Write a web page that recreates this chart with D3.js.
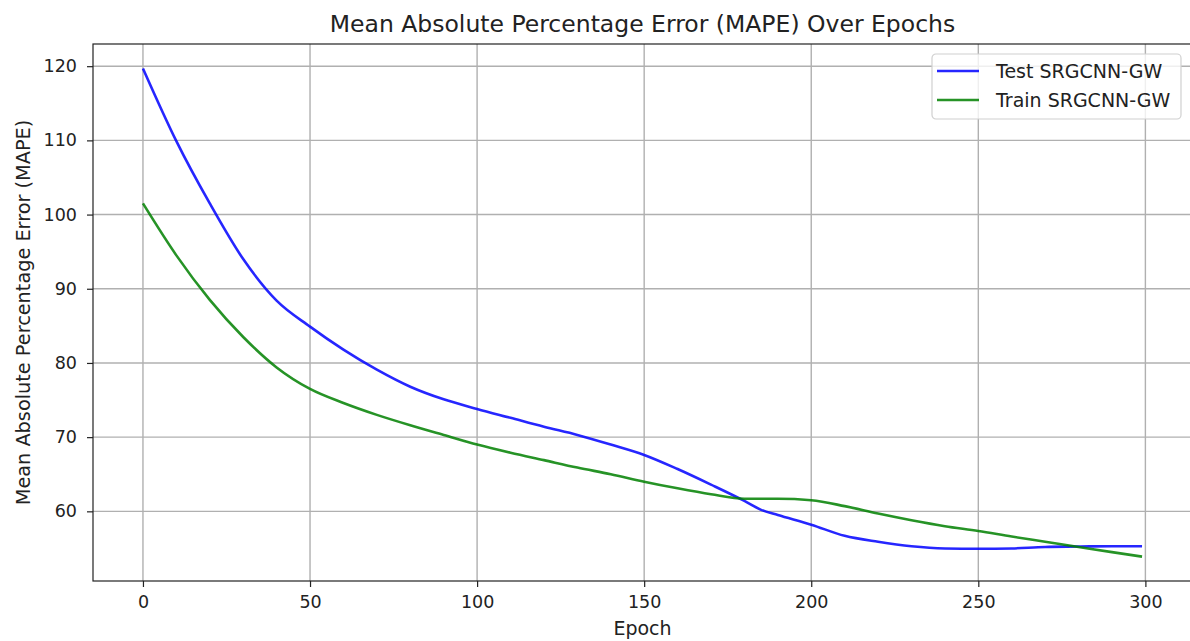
<!DOCTYPE html>
<html>
<head>
<meta charset="utf-8">
<script src="https://cdn.jsdelivr.net/npm/d3@7"></script>
<style>
  html, body { margin: 0; padding: 0; background: #fff; }
  svg { display: block; font-family: "DejaVu Sans", sans-serif; }
</style>
</head>
<body>
<svg id="chart" width="1190" height="641"></svg>
<script>
// Training history of the SRGCNN-GW model: MAPE per epoch
const epochs = [0, 10, 20, 30, 40, 50, 60, 70, 80, 90, 100, 110, 120, 130, 140, 150,
  160, 170, 180, 185, 190, 200, 210, 220, 230, 240, 250, 260, 270, 280, 290, 299];
const testMape = [119.7, 109.9, 101.5, 94.0, 88.4, 84.9, 81.8, 79.1, 76.8, 75.1, 73.8,
  72.6, 71.4, 70.3, 69.0, 67.6, 65.7, 63.6, 61.4, 60.2, 59.5, 58.2, 56.7, 55.9, 55.3,
  55.0, 54.95, 55.0, 55.2, 55.25, 55.3, 55.3];
const trainMape = [101.5, 94.5, 88.5, 83.5, 79.4, 76.5, 74.6, 73.0, 71.6, 70.3, 69.0,
  67.9, 66.9, 65.9, 65.0, 64.0, 63.1, 62.3, 61.7, 61.7, 61.7, 61.5, 60.7, 59.7, 58.8,
  58.0, 57.35, 56.6, 55.9, 55.2, 54.5, 53.9];
const xTicks = [0, 50, 100, 150, 200, 250, 300];
const yTicks = [60, 70, 80, 90, 100, 110, 120];
const seriesNames = ["Test SRGCNN-GW", "Train SRGCNN-GW"];
const seriesColors = ["#0000ff", "#008000"];

const svg = d3.select("#chart");
const plot = { left: 93, top: 44, right: 1192, bottom: 581 };

// 5% padding around the data range on each axis
const xPad = 0.05 * (d3.max(epochs) - d3.min(epochs));
const allVals = testMape.concat(trainMape);
const yPad = 0.05 * (d3.max(allVals) - d3.min(allVals));

const x = d3.scaleLinear()
  .domain([d3.min(epochs) - xPad, d3.max(epochs) + xPad])
  .range([plot.left, plot.right]);
const y = d3.scaleLinear()
  .domain([d3.min(allVals) - yPad, d3.max(allVals) + yPad])
  .range([plot.bottom, plot.top]);

// grid
const grid = svg.append("g");
grid.selectAll("line.vx").data(xTicks).join("line")
  .attr("x1", d => x(d)).attr("x2", d => x(d))
  .attr("y1", plot.top).attr("y2", plot.bottom)
  .attr("stroke", "#b0b0b0").attr("stroke-width", 1.4);
grid.selectAll("line.hy").data(yTicks).join("line")
  .attr("x1", plot.left).attr("x2", plot.right)
  .attr("y1", d => y(d)).attr("y2", d => y(d))
  .attr("stroke", "#b0b0b0").attr("stroke-width", 1.4);

// series
const series = [testMape, trainMape];
const line = d3.line()
  .x((d, i) => x(epochs[i]))
  .y(d => y(d))
  .curve(d3.curveMonotoneX);

svg.append("defs").append("clipPath").attr("id", "clip")
  .append("rect").attr("x", plot.left).attr("y", plot.top)
  .attr("width", plot.right - plot.left).attr("height", plot.bottom - plot.top);

svg.append("g").attr("clip-path", "url(#clip)")
  .selectAll("path").data(series).join("path")
  .attr("d", d => line(d))
  .attr("fill", "none")
  .attr("stroke", (d, i) => seriesColors[i])
  .attr("stroke-opacity", 0.85)
  .attr("stroke-width", 2.6)
  .attr("stroke-linejoin", "round")
  .attr("stroke-linecap", "butt");

// axes
const xAxis = d3.axisBottom(x).tickValues(xTicks).tickSize(6).tickPadding(9);
const yAxis = d3.axisLeft(y).tickValues(yTicks).tickSize(6).tickPadding(10);

const gx = svg.append("g").attr("transform", `translate(0,${plot.bottom})`).call(xAxis);
const gy = svg.append("g").attr("transform", `translate(${plot.left},0)`).call(yAxis);
[gx, gy].forEach(g => {
  g.select(".domain").remove();
  g.selectAll(".tick line").attr("stroke", "#222").attr("stroke-width", 1.2);
  g.selectAll(".tick text").attr("fill", "#222")
    .style("font-family", "'DejaVu Sans', sans-serif").style("font-size", "17.5px");
});

// spines
svg.append("rect")
  .attr("x", plot.left).attr("y", plot.top)
  .attr("width", plot.right - plot.left).attr("height", plot.bottom - plot.top)
  .attr("fill", "none").attr("stroke", "#222").attr("stroke-width", 1.2);

// title and axis labels
svg.append("text")
  .attr("x", (plot.left + plot.right) / 2).attr("y", 32)
  .attr("text-anchor", "middle").attr("fill", "#222")
  .style("font-size", "23.5px")
  .text("Mean Absolute Percentage Error (MAPE) Over Epochs");

svg.append("text")
  .attr("x", (plot.left + plot.right) / 2).attr("y", 635)
  .attr("text-anchor", "middle").attr("fill", "#222")
  .style("font-size", "19px")
  .text("Epoch");

svg.append("text")
  .attr("transform", `translate(30,${(plot.top + plot.bottom) / 2}) rotate(-90)`)
  .attr("text-anchor", "middle").attr("fill", "#222")
  .style("font-size", "19.3px")
  .text("Mean Absolute Percentage Error (MAPE)");

// legend
const legend = svg.append("g").attr("transform", "translate(932,54)");
legend.append("rect")
  .attr("width", 249).attr("height", 65).attr("rx", 4)
  .attr("fill", "#fff").attr("fill-opacity", 0.8)
  .attr("stroke", "#d0d0d0").attr("stroke-width", 1.2);
const item = legend.selectAll("g.item").data(seriesNames).join("g")
  .attr("transform", (d, i) => `translate(0,${17 + i * 29})`);
item.append("line")
  .attr("x1", 5).attr("x2", 47).attr("y1", 0).attr("y2", 0)
  .attr("stroke", (d, i) => seriesColors[i])
  .attr("stroke-opacity", 0.85)
  .attr("stroke-width", 2.6);
item.append("text")
  .attr("x", 64).attr("y", 6.5).attr("fill", "#222")
  .style("font-size", "19px")
  .text(d => d);
</script>
</body>
</html>
